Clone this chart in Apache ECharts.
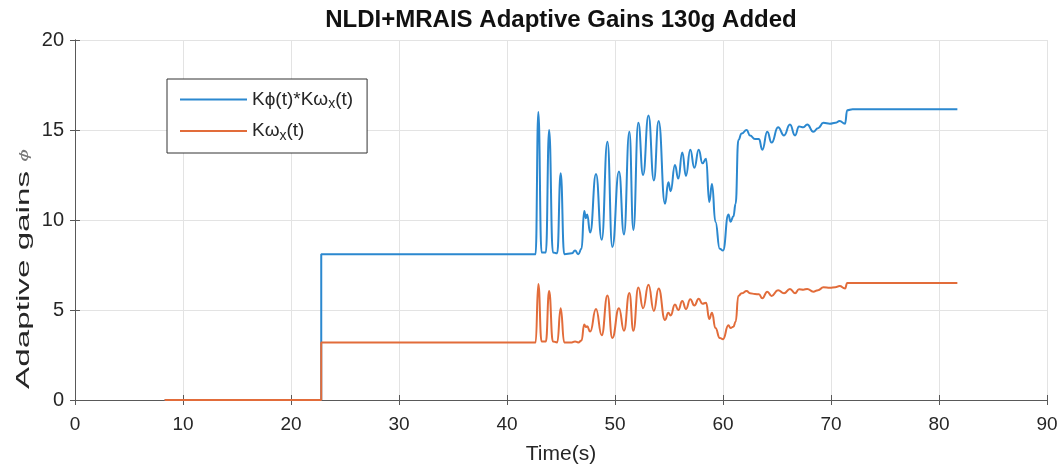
<!DOCTYPE html>
<html>
<head>
<meta charset="utf-8">
<script src="https://cdn.jsdelivr.net/npm/echarts@6/dist/echarts.min.js"></script>
<style>
  html, body { margin: 0; padding: 0; background: #fff; }
  #chart { width: 1063px; height: 470px; }
</style>
</head>
<body>
<div id="chart"></div>
<script>
// Sample times (s) shared by both gain traces
const timeS = [
  8.3, 22.8, 22.8, 42.65, 42.9, 43.2, 43.6, 43.9, 44.25, 44.65, 44.97, 45.3,
  46.0, 46.3, 46.6, 46.9, 47.15, 47.3, 47.42, 47.7, 48.24, 48.77, 49.3, 49.75,
  50.37, 50.83, 51.33, 51.7, 52.16, 52.6, 53.1, 53.6, 54.04, 54.63, 54.94, 55.15,
  55.55, 55.86, 56.23, 56.57, 56.97, 57.35, 57.75, 58.1, 58.43, 58.73, 58.98, 59.3,
  59.7, 60.0, 60.5, 60.7, 60.96, 61.17, 61.42, 61.73, 62.19, 62.5, 62.96, 63.33,
  63.64, 64.1, 64.5, 65.1, 65.65, 66.2, 66.67, 67.04, 67.44, 67.8, 68.36, 68.8,
  69.3, 69.9, 70.4, 70.8, 71.3, 71.5, 72.0, 81.7
];

// K_phi(t) * K_omega_x(t)
const gainProduct = [
  0, 0, 8.1, 8.1, 16.0, 8.2, 8.2, 15.0, 8.2, 8.15, 12.6, 8.1,
  8.15, 8.3, 8.1, 8.4, 10.5, 10.1, 10.3, 9.3, 12.55, 8.9, 14.35, 8.5,
  12.7, 9.2, 14.9, 9.45, 15.4, 12.5, 15.8, 12.2, 15.5, 10.9, 12.1, 11.6,
  13.05, 12.3, 13.75, 12.45, 13.9, 12.9, 13.9, 13.15, 13.4, 11.0, 12.0, 9.9,
  8.4, 8.3, 10.3, 9.9, 10.2, 10.9, 14.45, 14.8, 15.0, 14.7, 14.5, 14.5,
  13.9, 14.9, 14.3, 15.15, 14.7, 15.3, 14.7, 15.2, 15.15, 15.3, 14.9, 15.1,
  15.4, 15.35, 15.4, 15.5, 15.35, 16.1, 16.15, 16.15
];

// K_omega_x(t)
const gainOmega = [
  0, 0, 3.2, 3.2, 6.45, 3.25, 3.25, 6.05, 3.25, 3.2, 5.1, 3.2,
  3.2, 3.25, 3.2, 3.3, 4.2, 4.05, 4.1, 3.8, 5.05, 3.6, 5.8, 3.45,
  5.1, 3.85, 5.95, 3.85, 6.25, 5.1, 6.4, 4.95, 6.2, 4.45, 4.85, 4.7,
  5.3, 5.0, 5.5, 5.05, 5.6, 5.25, 5.62, 5.35, 5.4, 4.5, 4.85, 4.0,
  3.45, 3.38, 4.15, 4.0, 4.07, 4.35, 5.78, 5.93, 6.05, 5.93, 5.89, 5.87,
  5.65, 6.02, 5.78, 6.1, 5.93, 6.17, 5.93, 6.15, 6.13, 6.17, 6.02, 6.1,
  6.26, 6.24, 6.26, 6.33, 6.2, 6.5, 6.5, 6.5
];

const seriesNames = ['Kϕ(t)*Kωx(t)', 'Kωx(t)'];
const xTicks = { min: 0, max: 90, step: 10 };
const yTicks = { min: 0, max: 20, step: 5 };

const pair = (ys) => timeS.map((t, i) => [t, ys[i]]);

const FONT = "'Liberation Sans', Arial, Helvetica, sans-serif";
const TEXT = '#262626';
const AXIS = '#595959';
const GRID = '#e3e3e3';
const BLUE = '#2b88cf';
const ORANGE = '#e26c3a';

const chart = echarts.init(document.getElementById('chart'), null, { renderer: 'canvas' });

const boxAxis = {
  axisLine: { show: true, lineStyle: { color: AXIS, width: 1 } },
  axisTick: { show: true, inside: true, length: 5, lineStyle: { color: AXIS } },
  axisLabel: { show: false },
  splitLine: { show: false }
};

chart.setOption({
  animation: false,
  backgroundColor: '#fff',
  title: {
    text: 'NLDI+MRAIS Adaptive Gains 130g Added',
    left: 556, top: 3, textAlign: 'center',
    textStyle: { fontFamily: FONT, fontWeight: 'bold', fontSize: 24, color: '#111' }
  },
  grid: { left: 75, right: 16, top: 40, bottom: 70, containLabel: false },
  legend: {
    orient: 'vertical',
    left: 167, top: 79,
    padding: [11, 14, 10, 13],
    itemGap: 10,
    itemWidth: 67, itemHeight: 2,
    icon: 'rect',
    backgroundColor: '#fff',
    borderColor: '#333', borderWidth: 1,
    data: seriesNames,
    formatter: (name) => name === seriesNames[0]
      ? '{a|Kϕ(t)*Kω}{s|x}{a|(t)}'
      : '{a|Kω}{s|x}{a|(t)}',
    textStyle: {
      fontFamily: FONT, color: TEXT, fontSize: 19,
      rich: {
        a: { fontFamily: FONT, fontSize: 19, color: TEXT },
        s: { fontFamily: FONT, fontSize: 14, color: TEXT, padding: [10, 0, 0, 0] }
      }
    }
  },
  xAxis: [
    {
      type: 'value', min: xTicks.min, max: xTicks.max, interval: xTicks.step,
      name: 'Time(s)', nameLocation: 'middle', nameGap: 44,
      nameTextStyle: { fontFamily: FONT, fontSize: 21, color: TEXT },
      axisLine: { show: true, lineStyle: { color: AXIS, width: 1 } },
      axisTick: { show: true, inside: true, length: 5, lineStyle: { color: AXIS } },
      axisLabel: { fontFamily: FONT, fontSize: 19, color: TEXT, margin: 15 },
      splitLine: { show: true, lineStyle: { color: GRID, width: 1 } }
    },
    Object.assign({ type: 'value', position: 'top', min: xTicks.min, max: xTicks.max, interval: xTicks.step }, boxAxis)
  ],
  yAxis: [
    {
      type: 'value', min: yTicks.min, max: yTicks.max, interval: yTicks.step,
      axisLine: { show: true, lineStyle: { color: AXIS, width: 1 } },
      axisTick: { show: true, inside: true, length: 5, lineStyle: { color: AXIS } },
      axisLabel: { fontFamily: FONT, fontSize: 20, color: TEXT, margin: 11 },
      splitLine: { show: true, lineStyle: { color: GRID, width: 1 } }
    },
    Object.assign({ type: 'value', position: 'right', min: yTicks.min, max: yTicks.max, interval: yTicks.step }, boxAxis)
  ],
  graphic: [
    {
      // y-axis title, drawn stretched along its reading direction
      type: 'text',
      x: 24, y: 269,
      rotation: Math.PI / 2,
      scaleX: 1.75,
      style: {
        text: 'Adaptive gains {p|ϕ}',
        font: '19px ' + FONT,
        fill: TEXT,
        align: 'center',
        verticalAlign: 'middle',
        rich: {
          p: { font: 'italic 13px ' + FONT, fill: '#777' }
        }
      }
    }
  ],
  series: [
    {
      name: seriesNames[0], type: 'line', data: pair(gainProduct),
      xAxisIndex: 0, yAxisIndex: 0,
      symbol: 'none', smooth: 0.5, smoothMonotone: 'x',
      lineStyle: { color: BLUE, width: 2 },
      itemStyle: { color: BLUE }
    },
    {
      name: seriesNames[1], type: 'line', data: pair(gainOmega),
      xAxisIndex: 0, yAxisIndex: 0,
      symbol: 'none', smooth: 0.5, smoothMonotone: 'x',
      lineStyle: { color: ORANGE, width: 2 },
      itemStyle: { color: ORANGE }
    }
  ]
});
</script>
</body>
</html>
